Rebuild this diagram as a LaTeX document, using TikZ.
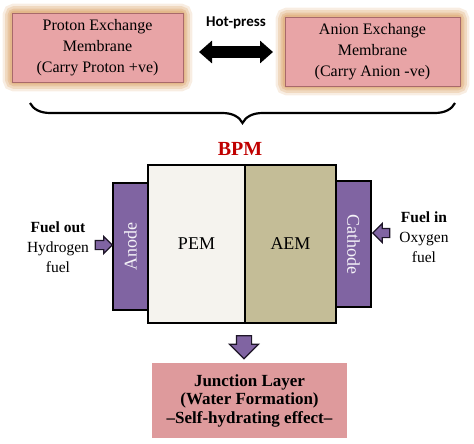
\documentclass[tikz,border=0pt]{standalone}
\usepackage{fontspec}
\setmainfont{Liberation Serif}
\newfontfamily\hpfont{Carlito}
\usetikzlibrary{arrows.meta,positioning,shapes.arrows,decorations.pathreplacing,backgrounds}

\definecolor{membpink}{HTML}{E8A4A6}
\definecolor{membedge}{HTML}{A8696B}
\definecolor{glowtan}{HTML}{D89B5C}
\definecolor{electpurple}{HTML}{8064A2}
\definecolor{electedge}{HTML}{1E1628}
\definecolor{pemwhite}{HTML}{F5F3EE}
\definecolor{aemtan}{HTML}{C4BD97}
\definecolor{bpmred}{HTML}{C00000}
\definecolor{junctpink}{HTML}{DE9A9C}

\begin{document}
\begin{tikzpicture}[x=1pt,y=1pt,
  membbox/.style={rectangle, fill=membpink, draw=membedge, line width=0.8pt,
    minimum width=#1, minimum height=69pt, inner sep=0pt, align=center,
    font=\fontsize{16}{21}\selectfont},
  layer/.style={rectangle, draw=black, line width=1.6pt, outer sep=0pt,
    minimum height=158pt, inner sep=0pt, font=\fontsize{18}{20}\selectfont},
  electrode/.style={rectangle, fill=electpurple, draw=black, line width=1.6pt,
    outer sep=0pt, minimum width=35pt, inner sep=0pt, text=white!92!electpurple,
    font=\fontsize{18}{20}\selectfont},
  feedarrow/.style={single arrow, fill=electpurple, draw=electedge, line width=1.2pt,
    inner sep=#1},
  sidetext/.style={align=center, font=\fontsize{15.5}{20}\selectfont}]

\useasboundingbox (0,0) rectangle (474,-444);

% membranes before pressing
\node[membbox=171pt] (pembox) at (97.5,-47.5)
  {Proton Exchange\\Membrane\\(Carry Proton +ve)};
\node[membbox=175pt] (aembox) at (372.5,-51.5)
  {Anion Exchange\\Membrane\\(Carry Anion -ve)};
\begin{scope}[on background layer]
  \foreach \w/\o in {18/0.18, 13/0.25, 8/0.3, 4/0.35} {
    \draw[glowtan, line width=\w pt, opacity=\o, rounded corners=3pt]
      (pembox.south west) rectangle (pembox.north east);
    \draw[glowtan, line width=\w pt, opacity=\o, rounded corners=3pt]
      (aembox.south west) rectangle (aembox.north east);
  }
\end{scope}

% hot-press
\coordinate (hpl) at (199,-52);
\coordinate (hpr) at (273,-52);
\draw[line width=12pt, {Triangle[length=13pt,width=22pt]}-{Triangle[length=13pt,width=22pt]}]
  (hpl) -- (hpr);
\node[font=\hpfont\bfseries\fontsize{15}{17}\selectfont] (hplabel) at (236,-23) {Hot-press};

% brace
\coordinate (brl) at (30,-103);
\coordinate (brr) at (455,-103);
\draw[decorate, decoration={brace, mirror, amplitude=20pt}, line width=2.2pt]
  (brl) -- (brr);
\node[text=bpmred, font=\bfseries\fontsize{20}{22}\selectfont] (bpm) at (240,-149) {BPM};

% bipolar membrane cell
\node[layer, fill=pemwhite, minimum width=97pt] (pem) at (196.5,-244) {PEM};
\node[layer, fill=aemtan, minimum width=91pt, right=0pt of pem] (aem) {AEM};
\node[electrode, minimum height=127pt] (anode) at (130.5,-246.5)
  {\rotatebox{90}{Anode}};
\node[electrode, minimum height=126pt, right=0pt of aem] (cathode)
  {\rotatebox{-90}{Cathode}};

% feeds
\node[feedarrow=4pt, minimum height=17pt, single arrow head extend=4pt]
  (feedout) at (101.5,-245) {};
\node[feedarrow=4pt, minimum height=17pt, single arrow head extend=5pt,
  shape border rotate=180] (feedin) at (383.5,-233) {};
\node[sidetext] (outtext) at (58,-247) {\textbf{Fuel out}\\Hydrogen\\fuel};
\node[sidetext] (intext) at (424,-237) {\textbf{Fuel in}\\Oxygen\\fuel};

% junction
\node[feedarrow=7pt, minimum height=23pt, shape border rotate=270,
  single arrow head extend=7pt] (drop) at (244,-343.5) {};
\node[rectangle, fill=junctpink, minimum width=195pt, minimum height=75pt,
  inner sep=0pt, align=center, font=\bfseries\fontsize{17}{18.5}\selectfont]
  (junction) at (249.5,-400.5)
  {Junction Layer\\(Water Formation)\\--Self-hydrating effect--};
\end{tikzpicture}
\end{document}
